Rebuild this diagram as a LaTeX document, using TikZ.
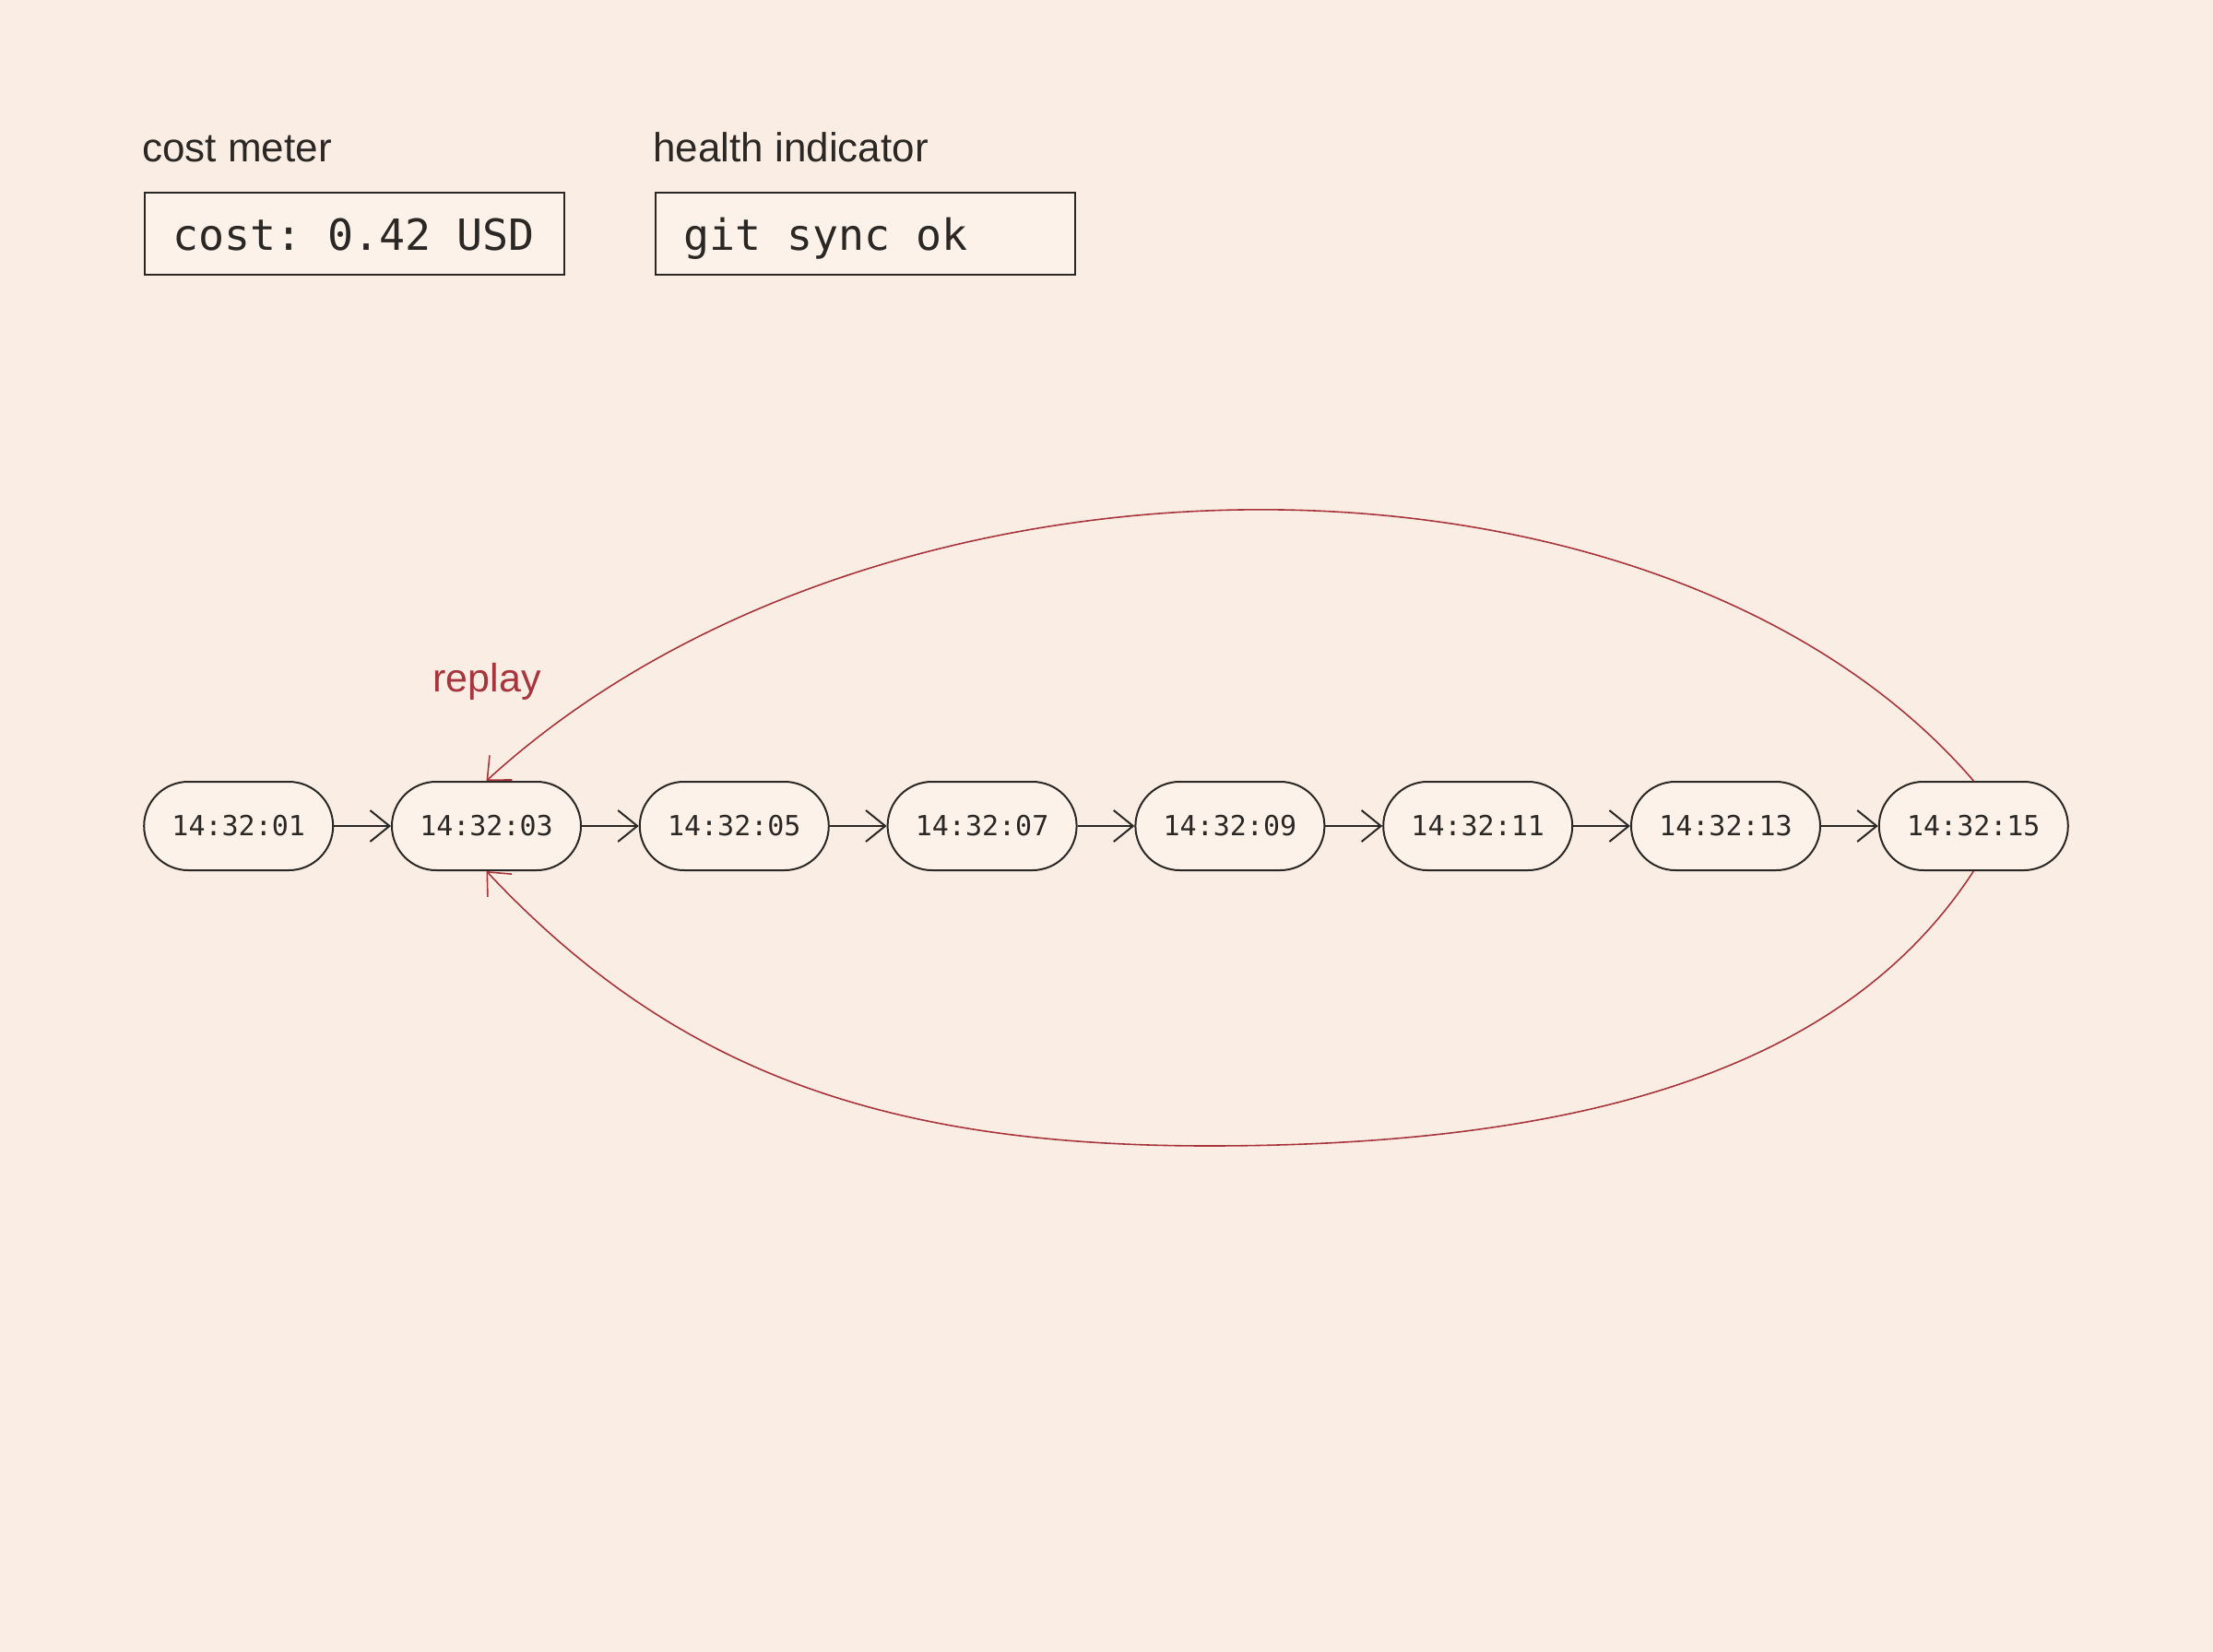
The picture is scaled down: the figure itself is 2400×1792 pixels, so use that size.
\documentclass[tikz,border=0pt]{standalone}
\usepackage{fontspec}
\setmainfont{Liberation Sans}
\newfontfamily\monofont[WordSpace={1,0,0},PunctuationSpace=WordSpace]{DejaVu Sans Mono}
\usetikzlibrary{arrows.meta}
\definecolor{bgc}{HTML}{FAEEE4}
\definecolor{ink}{HTML}{2B2724}
\definecolor{replayred}{HTML}{A8343C}
\definecolor{nodefill}{HTML}{FCF2EA}
\tikzset{
  stamp/.style={draw=ink, line width=1pt, fill=nodefill, rounded corners=24pt,
    minimum width=102.5pt, minimum height=48pt, inner sep=0pt,
    font=\monofont\fontsize{15}{18}\selectfont, text=ink},
  meterbox/.style={draw=ink, line width=1.1pt, fill=nodefill, anchor=north west,
    minimum width=227.5pt, minimum height=44.5pt, inner xsep=15pt, inner ysep=0pt,
    text width=197.5pt, align=left, text height=18pt, text depth=0pt,
    font=\monofont\fontsize{23.3}{28}\selectfont\frenchspacing, text=ink},
  caption/.style={anchor=base west, inner sep=0pt, text=ink,
    font=\fontsize{22}{26}\selectfont},
  flow/.style={draw=ink, line width=1pt, -{Straight Barb[length=10.5pt,width=17pt]}},
  replayline/.style={draw=replayred, line width=0.8pt,
    -{Straight Barb[length=10pt,width=18pt]}},
}
\begin{document}
\begin{tikzpicture}[x=0.5pt, y=-0.5pt]
\fill[bgc] (0,0) rectangle (2400,1792);
\useasboundingbox (0,0) rectangle (2400,1792);

% captions and meter boxes
\node[caption] (costlabel) at (154,176) {cost meter};
\node[caption] (healthlabel) at (708,176) {health indicator};
\node[meterbox] (costbox) at (156,208) {\mbox{cost:\hspace{0.602em}0.42\hspace{0.602em}USD}};
\node[meterbox] (healthbox) at (710,208) {\mbox{git\hspace{0.602em}sync\hspace{0.602em}ok}};

% timeline nodes
\node[stamp] (t1) at (258.7,896) {14:32:01};
\node[stamp] (t2) at (527.5,896) {14:32:03};
\node[stamp] (t3) at (796.3,896) {14:32:05};
\node[stamp] (t4) at (1065.1,896) {14:32:07};
\node[stamp] (t5) at (1333.9,896) {14:32:09};
\node[stamp] (t6) at (1602.7,896) {14:32:11};
\node[stamp] (t7) at (1871.5,896) {14:32:13};
\node[stamp] (t8) at (2140.3,896) {14:32:15};

\draw[flow] (t1) -- (t2);
\draw[flow] (t2) -- (t3);
\draw[flow] (t3) -- (t4);
\draw[flow] (t4) -- (t5);
\draw[flow] (t5) -- (t6);
\draw[flow] (t6) -- (t7);
\draw[flow] (t7) -- (t8);

% replay loops
\coordinate (lowpt) at (1311,1243);
\draw[replayline] (t8.north) .. controls (1803,455) and (956,455) .. (t2.north);
\draw[replayline] (t8.south) .. controls (2015,1137) and (1767,1243) .. (lowpt)
  .. controls (960,1243) and (732,1163) .. (t2.south);

\node[anchor=base, inner sep=0pt, text=replayred, font=\fontsize{21.5}{26}\selectfont]
  (replaylabel) at (528,750) {replay};
\end{tikzpicture}
\end{document}
